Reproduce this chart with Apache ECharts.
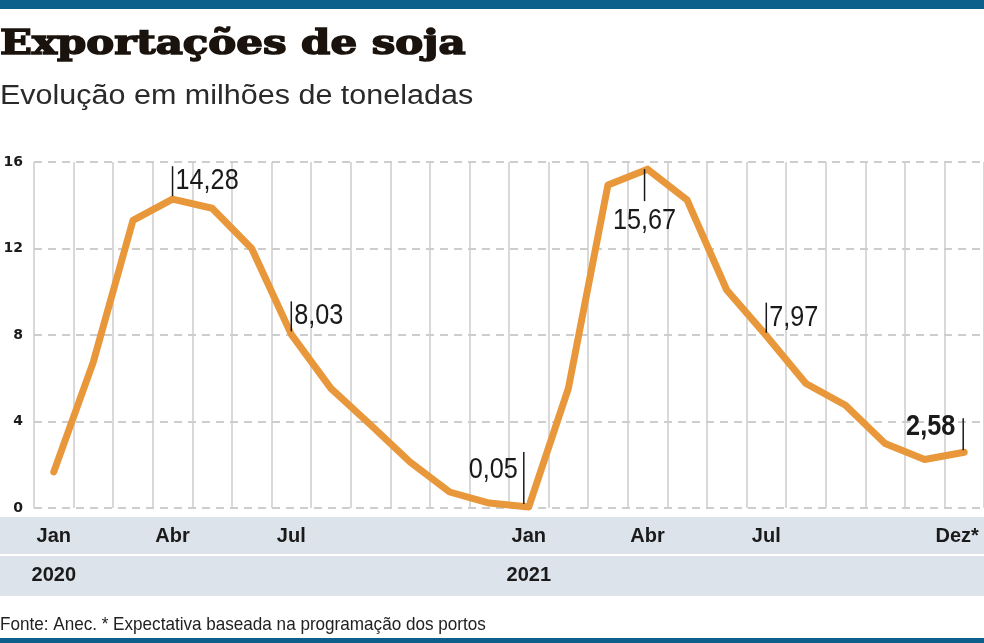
<!doctype html>
<html>
<head>
<meta charset="utf-8">
<title>Exportações de soja</title>
<style>
	html, body { margin: 0; padding: 0; background: #fff; }
	#main { width: 984px; height: 643px; }
</style>
<script src="https://cdn.jsdelivr.net/npm/echarts@6/dist/echarts.min.js"></script>
</head>
<body>
<div id="main"></div>
<script>
	// meses de jan/2020 a dez/2021 (dez* = expectativa)
	var months = ['Jan','Fev','Mar','Abr','Mai','Jun','Jul','Ago','Set','Out','Nov','Dez',
		'Jan','Fev','Mar','Abr','Mai','Jun','Jul','Ago','Set','Out','Nov','Dez*'];
	// exportações, milhões de toneladas
	var values = [1.67, 6.76, 13.3, 14.28, 13.86, 12.0, 8.03, 5.53, 3.85, 2.13, 0.74, 0.23,
		0.05, 5.53, 14.94, 15.67, 14.24, 10.08, 7.97, 5.76, 4.75, 2.98, 2.24, 2.58];
	// meses com rótulo no eixo
	var monthTicks = [0, 3, 6, 12, 15, 18, 23];
	// anos
	var yearTicks = [0, 12];
	var yearNames = ['2020', '2021'];
	// pontos com valor destacado
	var annIdx = [3, 6, 12, 15, 18, 23];

	// posição do texto de cada destaque
	var annSide = ['right', 'right', 'left', 'below', 'right', 'leftBold'];

	var orange = '#E8983A';
	var sans = '"Liberation Sans", Arial, sans-serif';

	function fmt(v) {
		return v.toFixed(2).replace('.', ',');
	}

	var annData = annIdx.map(function (i, k) {
		return [i, values[i], k];
	});

	function renderAnn(params, api) {
		var p = api.coord([api.value(0), api.value(1)]);
		var side = annSide[api.value(2)];
		var txt = fmt(api.value(1));
		var x = p[0], y = p[1];
		var line, text;
		if (side == 'right') {
			line = [x, y - 33, x, y - 3];
			text = {x: x + 3, y: y - 18, align: 'left', w: 'normal'};
		} else if (side == 'below') {
			line = [x - 3, y, x - 3, y + 32];
			text = {x: x - 3, y: y + 52, align: 'center', w: 'normal'};
		} else if (side == 'left') {
			line = [x - 5, y - 55, x - 5, y - 3];
			text = {x: x - 11, y: y - 37, align: 'right', w: 'normal'};
		} else {
			line = [x - 1, y - 34, x - 1, y - 2];
			text = {x: x - 9, y: y - 25, align: 'right', w: 'bold'};
		}
		return {
			type: 'group',
			children: [
				{
					type: 'line',
					shape: {x1: line[0], y1: line[1], x2: line[2], y2: line[3]},
					style: {stroke: '#1a1a1a', lineWidth: 1.5}
				},
				{
					type: 'text',
					x: text.x,
					y: text.y,
					scaleX: 0.87,
					style: {
						text: txt, x: 0, y: 0,
						align: text.align, verticalAlign: 'middle',
						fill: '#1a1a1a',
						font: text.w + ' 29px ' + sans
					}
				}
			]
		};
	}

	var myChart = echarts.init(document.getElementById('main'));

	var option = {
		animation: false,
		backgroundColor: '#fff',
		grid: {left: 34, right: 0, top: 162, bottom: 135, containLabel: false, outerBoundsMode: 'none'},
		graphic: [
			{type: 'rect', shape: {x: 0, y: 0, width: 984, height: 9}, style: {fill: '#0d5f8b'}, z: -1},
			{type: 'rect', shape: {x: 0, y: 517, width: 984, height: 37}, style: {fill: '#dce3ea'}, z: -1},
			{type: 'rect', shape: {x: 0, y: 556, width: 984, height: 40}, style: {fill: '#dce3ea'}, z: -1},
			{type: 'rect', shape: {x: 0, y: 638, width: 984, height: 5}, style: {fill: '#0d5f8b'}, z: -1},
			{type: 'text', x: 0, y: 45, scaleX: 1.27,
				style: {text: 'Exportações de soja', x: 0, y: 0, verticalAlign: 'middle',
				font: 'bold 33px "DejaVu Serif", serif', fill: '#1a120c', stroke: '#1a120c', lineWidth: 1.5}},
			{type: 'text', x: 0, y: 97, scaleX: 1.13,
				style: {text: 'Evolução em milhões de toneladas', x: 0, y: 0, verticalAlign: 'middle',
				font: 'normal 27px ' + sans, fill: '#2a2a2a'}},
			{type: 'text', x: 0, y: 625, scaleX: 0.9,
				style: {text: 'Fonte: Anec. * Expectativa baseada na programação dos portos', x: 0, y: 0,
				verticalAlign: 'middle', font: 'normal 19px ' + sans, fill: '#222'}}
		],
		xAxis: [
			{
				type: 'category',
				data: months,
				boundaryGap: true,
				axisLine: {show: false},
				axisTick: {show: false},
				axisLabel: {
					interval: function (i) { return monthTicks.indexOf(i) >= 0; },
					formatter: function (v, i) { return i == months.length - 1 ? '{last|' + v + '}' : v; },
					rich: {last: {padding: [0, 14, 0, 0], fontFamily: sans, fontWeight: 'bold', fontSize: 20, color: '#1a1a1a'}},
					margin: 18,
					color: '#1a1a1a',
					fontFamily: sans,
					fontWeight: 'bold',
					fontSize: 20
				},
				splitLine: {show: true, interval: 0, lineStyle: {color: '#cdcdcd', width: 1.5}}
			},
			{
				type: 'category',
				data: months,
				position: 'bottom',
				boundaryGap: true,
				axisLine: {show: false},
				axisTick: {show: false},
				splitLine: {show: false},
				axisLabel: {
					interval: function (i) { return yearTicks.indexOf(i) >= 0; },
					formatter: function (v, i) { return yearNames[yearTicks.indexOf(i)] || ''; },
					margin: 57,
					color: '#1a1a1a',
					fontFamily: sans,
					fontWeight: 'bold',
					fontSize: 20
				}
			}
		],
		yAxis: {
			type: 'value',
			min: 0,
			max: 16,
			interval: 4,
			axisLine: {show: false},
			axisTick: {show: false},
			axisLabel: {
				margin: 11,
				color: '#1a1a1a',
				fontFamily: '"DejaVu Sans", sans-serif',
				fontWeight: 'bold',
				fontSize: 14
			},
			splitLine: {lineStyle: {color: '#bdbdbd', width: 1.5, type: [8, 6]}}
		},
		series: [
			{
				type: 'line',
				data: values,
				symbol: 'none',
				clip: false,
				z: 3,
				lineStyle: {color: orange, width: 7, join: 'round', cap: 'round'}
			},
			{
				type: 'custom',
				data: annData,
				renderItem: renderAnn,
				z: 4,
				clip: false
			}
		]
	};
	myChart.setOption(option);
</script>
</body>
</html>
